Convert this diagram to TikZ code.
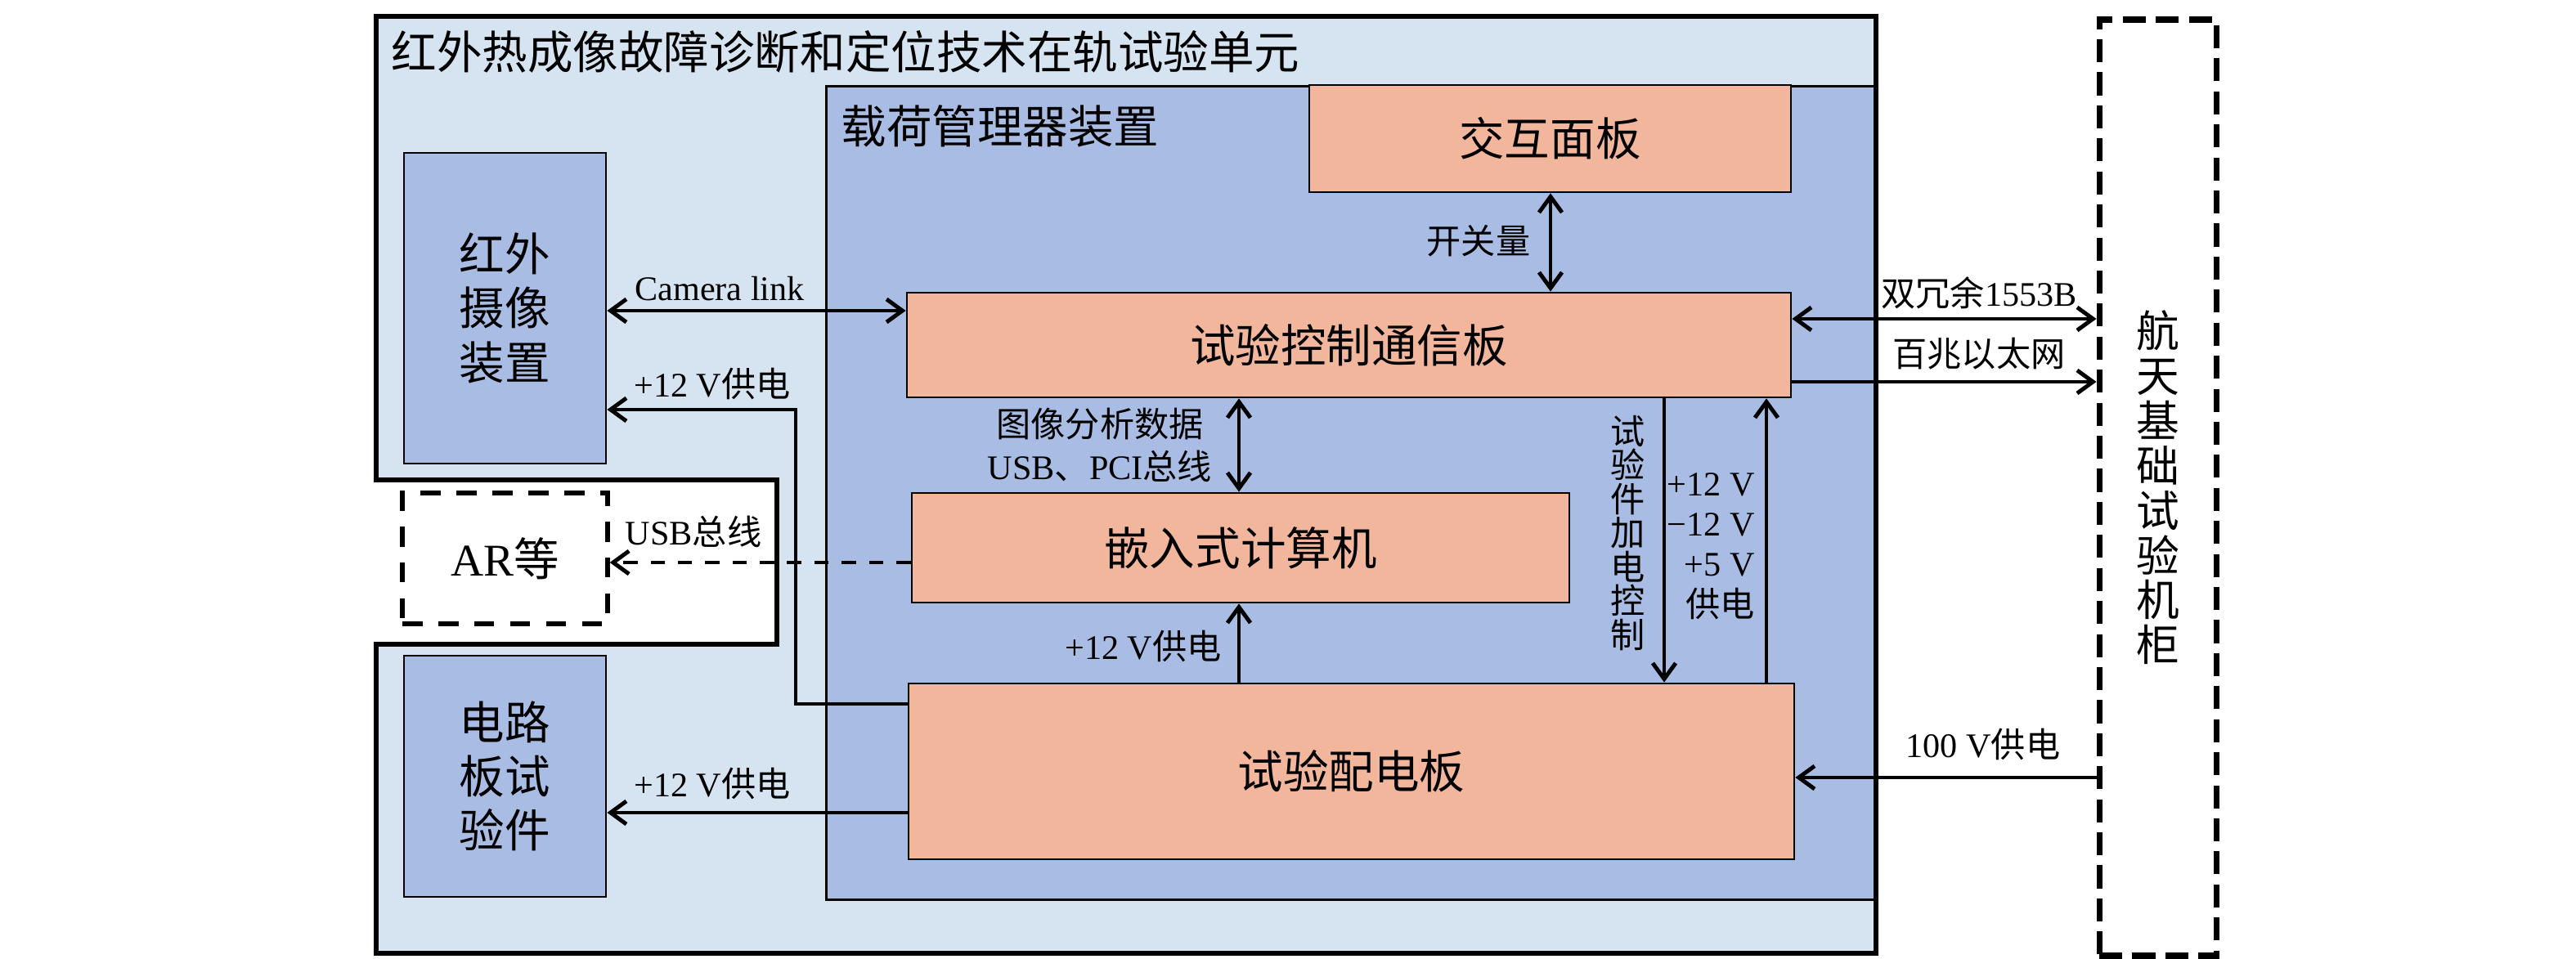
\documentclass[tikz,border=0pt]{standalone}
\usepackage{fontspec}
\setmainfont{Noto Sans CJK SC}
\newfontfamily\tnr{Liberation Serif}
\usetikzlibrary{arrows.meta}
\definecolor{paleblue}{HTML}{D6E4F1}
\definecolor{midblue}{HTML}{A9BCE3}
\definecolor{salmon}{HTML}{F2B69D}
\newcommand{\bigfont}{\fontsize{15.8}{18.8}\selectfont}
\newcommand{\smallfont}{\fontsize{12}{14}\selectfont}

\begin{document}
\begin{tikzpicture}[>={Straight Barb[length=5.5pt,width=8pt]}]
	\tikzstyle{boardStyle}=[draw, line width=0.8pt, fill=salmon, font=\bigfont, inner sep=0pt]
	\tikzstyle{devStyle}=[draw, line width=0.8pt, fill=midblue, font=\bigfont, align=center, inner sep=0pt]
	\tikzstyle{extStyle}=[draw, fill=white, font=\bigfont, align=center, inner sep=0pt]
	\tikzstyle{wireStyle}=[line width=1.4pt]
	\tikzstyle{labelStyle}=[font=\smallfont, inner sep=1pt]
	\useasboundingbox (0,0) rectangle (31.5,-11.73);
	% test unit with notch
	\fill[paleblue] (4.60,-0.20) -- (22.94,-0.20) -- (22.94,-11.66) -- (4.60,-11.66) -- (4.60,-7.88) -- (9.50,-7.88) -- (9.50,-5.87) -- (4.60,-5.87) -- cycle;
	\node[devStyle, anchor=north west, minimum width=12.85cm, minimum height=9.95cm] (plm) at (10.09,-1.04) {};
	\draw[line width=1.9pt] (4.60,-0.20) -- (22.94,-0.20) -- (22.94,-11.66) -- (4.60,-11.66) -- (4.60,-7.88) -- (9.50,-7.88) -- (9.50,-5.87) -- (4.60,-5.87) -- cycle;
	\node[anchor=west, font=\bigfont, inner sep=0pt] (title) at (4.78,-0.63) {红外热成像故障诊断和定位技术在轨试验单元};
	\node[anchor=west, font=\bigfont, inner sep=0pt] (plmtitle) at (10.28,-1.54) {载荷管理器装置};
	% boards
	\node[boardStyle, minimum width=5.89cm, minimum height=1.31cm] (hmi) at (18.955,-1.695) {交互面板};
	\node[boardStyle, minimum width=10.81cm, minimum height=1.28cm] (ctrl) at (16.495,-4.22) {试验控制通信板};
	\node[boardStyle, minimum width=8.04cm, minimum height=1.34cm] (cpu) at (15.17,-6.70) {嵌入式计算机};
	\node[boardStyle, minimum width=10.83cm, minimum height=2.15cm] (pdu) at (16.525,-9.435) {试验配电板};
	% devices
	\node[devStyle, minimum width=2.47cm, minimum height=3.80cm] (cam) at (6.175,-3.77) {红外\\摄像\\装置};
	\node[devStyle, minimum width=2.47cm, minimum height=2.95cm] (dut) at (6.175,-9.495) {电路\\板试\\验件};
	\node[extStyle, line width=1.5pt, dash pattern=on 7pt off 5.5pt, minimum width=2.51cm, minimum height=1.60cm] (ar) at (6.175,-6.83) {{\tnr AR}等};
	\node[extStyle, line width=2pt, dash pattern=on 8pt off 3.5pt, minimum width=1.43cm, minimum height=11.45cm, font={\fontsize{15}{15.6}\selectfont}] (rack) at (26.385,-5.965) {航\\天\\基\\础\\试\\验\\机\\柜};
	% connections
	\draw[wireStyle, <->] (cam.east |- 0,-3.80) -- (ctrl.west |- 0,-3.80);
	\draw[wireStyle, ->] (pdu.west |- 0,-8.61) -| (9.73,-5.01) -- (cam.east |- 0,-5.01);
	\draw[wireStyle, ->, dash pattern=on 5pt off 4.5pt] (cpu.west |- 0,-6.88) -- (ar.east |- 0,-6.88);
	\draw[wireStyle, ->] (pdu.west |- 0,-9.94) -- (dut.east |- 0,-9.94);
	\draw[wireStyle, <->] (hmi.south -| 18.96,0) -- (ctrl.north -| 18.96,0);
	\draw[wireStyle, <->] (ctrl.south -| 15.15,0) -- (cpu.north -| 15.15,0);
	\draw[wireStyle, ->] (pdu.north -| 15.15,0) -- (cpu.south -| 15.15,0);
	\draw[wireStyle, ->] (ctrl.south -| 20.35,0) -- (pdu.north -| 20.35,0);
	\draw[wireStyle, ->] (pdu.north -| 21.60,0) -- (ctrl.south -| 21.60,0);
	\draw[wireStyle, <->] (ctrl.east |- 0,-3.90) -- (rack.west |- 0,-3.90);
	\draw[wireStyle, ->] (ctrl.east |- 0,-4.67) -- (rack.west |- 0,-4.67);
	\draw[wireStyle, ->] (rack.west |- 0,-9.51) -- (pdu.east |- 0,-9.51);
	% labels
	\node[labelStyle] (lcam) at (8.80,-3.53) {\tnr Camera link};
	\node[labelStyle] (lpcam) at (8.71,-4.70) {{\tnr +12 V}供电};
	\node[labelStyle] (lusb) at (8.48,-6.50) {{\tnr USB}总线};
	\node[labelStyle] (lpdut) at (8.71,-9.59) {{\tnr +12 V}供电};
	\node[labelStyle] (lsw) at (18.08,-2.95) {开关量};
	\node[labelStyle] (limg) at (13.45,-5.19) {图像分析数据};
	\node[labelStyle] (lpci) at (13.45,-5.70) {{\tnr USB}、{\tnr PCI}总线};
	\node[labelStyle] (lpcpu) at (13.98,-7.91) {{\tnr +12 V}供电};
	\node[labelStyle, align=center, font={\fontsize{12}{11.8}\selectfont}] (lctl) at (19.91,-6.52) {试\\验\\件\\加\\电\\控\\制};
	\node[labelStyle, align=right] (lvolt) at (20.92,-6.68) {{\tnr +12 V}\\{\tnr −12 V}\\{\tnr +5 V}\\供电};
	\node[labelStyle] (lbus) at (24.20,-3.58) {双冗余{\tnr 1553B}};
	\node[labelStyle] (leth) at (24.20,-4.33) {百兆以太网};
	\node[labelStyle] (lhv) at (24.25,-9.11) {{\tnr 100 V}供电};
\end{tikzpicture}
\end{document}
